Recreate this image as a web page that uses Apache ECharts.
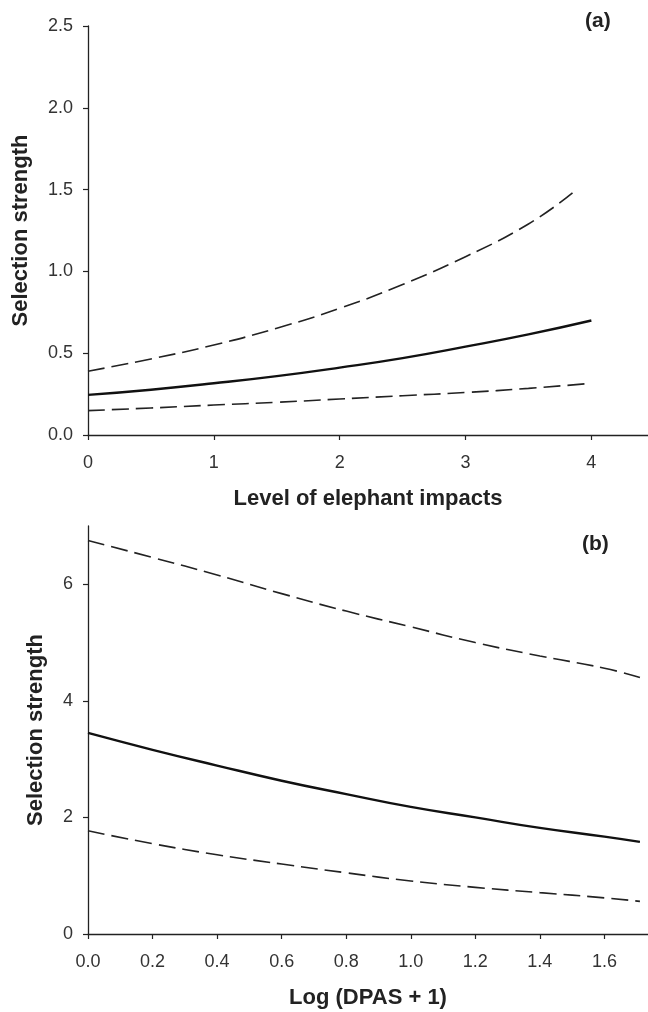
<!DOCTYPE html>
<html>
<head>
<meta charset="utf-8">
<script src="https://cdn.jsdelivr.net/npm/echarts@6/dist/echarts.min.js"></script>
<style>
  html, body { margin: 0; padding: 0; background: #fff; }
  #chart { width: 648px; height: 1012px; }
</style>
</head>
<body>
<div id="chart"></div>
<script>
// panel (a): level of elephant impacts
const aX = [0, 0.5, 1, 1.5, 2, 2.5, 3, 3.5, 4]
const aMean = [0.245, 0.277, 0.316, 0.36, 0.412, 0.47, 0.54, 0.615, 0.70]
const aLower = [0.149, 0.165, 0.183, 0.2, 0.22, 0.24, 0.26, 0.285, 0.316]
const aUpperX = [0, 0.5, 1, 1.5, 2, 2.5, 3, 3.5, 3.85]
const aUpper = [0.39, 0.465, 0.55, 0.653, 0.774, 0.92, 1.09, 1.29, 1.48]

// panel (b): Log (DPAS + 1)
const bX = [0, 0.2, 0.4, 0.6, 0.8, 1.0, 1.2, 1.4, 1.6, 1.71]
const bMean = [3.45, 3.16, 2.89, 2.63, 2.40, 2.18, 2.0, 1.82, 1.67, 1.58]
const bUpper = [6.75, 6.46, 6.16, 5.84, 5.54, 5.27, 5.0, 4.77, 4.56, 4.40]
const bLower = [1.77, 1.55, 1.36, 1.20, 1.05, 0.91, 0.80, 0.71, 0.62, 0.56]

// tick labels
const aXTicks = [0, 1, 2, 3, 4]
const aYTicks = [0, 0.5, 1, 1.5, 2, 2.5]
const bXTicks = [0, 0.2, 0.4, 0.6, 0.8, 1.0, 1.2, 1.4, 1.6]
const bYTicks = [0, 2, 4, 6]

const zip = (xs, ys) => xs.map((x, i) => [x, ys[i]])

const ink = '#222'
const font = 'Liberation Sans, Arial, sans-serif'

function axisBase() {
  return {
    axisLine: { show: true, lineStyle: { color: ink, width: 1.3 } },
    axisTick: { show: true, inside: false, length: 5, lineStyle: { color: ink, width: 1.2 } },
    splitLine: { show: false },
    axisLabel: { color: '#333', fontSize: 18, fontFamily: font },
    nameLocation: 'middle',
    nameTextStyle: { color: '#222', fontSize: 22, fontWeight: 'bold', fontFamily: font }
  }
}

function lineSeries(xi, yi, data, dashed) {
  return {
    type: 'line',
    xAxisIndex: xi,
    yAxisIndex: yi,
    data: data,
    smooth: true,
    showSymbol: false,
    silent: true,
    lineStyle: dashed
      ? { color: '#222', width: 1.6, type: [17, 7] }
      : { color: '#111', width: 2.4 }
  }
}

const chart = echarts.init(document.getElementById('chart'))
chart.setOption({
  animation: false,
  backgroundColor: '#fff',
  grid: [
    { left: 88, right: 0, top: 26, height: 409 },
    { left: 88, right: 0, top: 526, height: 408 }
  ],
  xAxis: [
    {
      ...axisBase(), type: 'value', gridIndex: 0, min: 0, max: 4.45,
      name: 'Level of elephant impacts', nameGap: 53,
      axisTick: { ...axisBase().axisTick, customValues: aXTicks },
      axisLabel: { ...axisBase().axisLabel, margin: 19, customValues: aXTicks, formatter: v => String(v) }
    },
    {
      ...axisBase(), type: 'value', gridIndex: 1, min: 0, max: 1.735,
      name: 'Log (DPAS + 1)', nameGap: 53,
      axisTick: { ...axisBase().axisTick, customValues: bXTicks },
      axisLabel: { ...axisBase().axisLabel, margin: 19, customValues: bXTicks, formatter: v => v.toFixed(1) }
    }
  ],
  yAxis: [
    {
      ...axisBase(), type: 'value', gridIndex: 0, min: 0, max: 2.5,
      name: 'Selection strength', nameGap: 56,
      axisTick: { ...axisBase().axisTick, customValues: aYTicks },
      axisLabel: { ...axisBase().axisLabel, margin: 15, customValues: aYTicks, formatter: v => v.toFixed(1) }
    },
    {
      ...axisBase(), type: 'value', gridIndex: 1, min: 0, max: 7,
      name: 'Selection strength', nameGap: 41,
      axisTick: { ...axisBase().axisTick, customValues: bYTicks },
      axisLabel: { ...axisBase().axisLabel, margin: 15, customValues: bYTicks, formatter: v => String(v) }
    }
  ],
  graphic: [
    { type: 'text', left: 585, top: 11, style: { text: '(a)', fontSize: 21, fontWeight: 'bold', fontFamily: font, fill: '#222' } },
    { type: 'text', left: 582, top: 534, style: { text: '(b)', fontSize: 21, fontWeight: 'bold', fontFamily: font, fill: '#222' } }
  ],
  series: [
    lineSeries(0, 0, zip(aX, aMean), false),
    lineSeries(0, 0, zip(aUpperX, aUpper), true),
    lineSeries(0, 0, zip(aX, aLower), true),
    lineSeries(1, 1, zip(bX, bMean), false),
    lineSeries(1, 1, zip(bX, bUpper), true),
    lineSeries(1, 1, zip(bX, bLower), true)
  ]
})
</script>
</body>
</html>
